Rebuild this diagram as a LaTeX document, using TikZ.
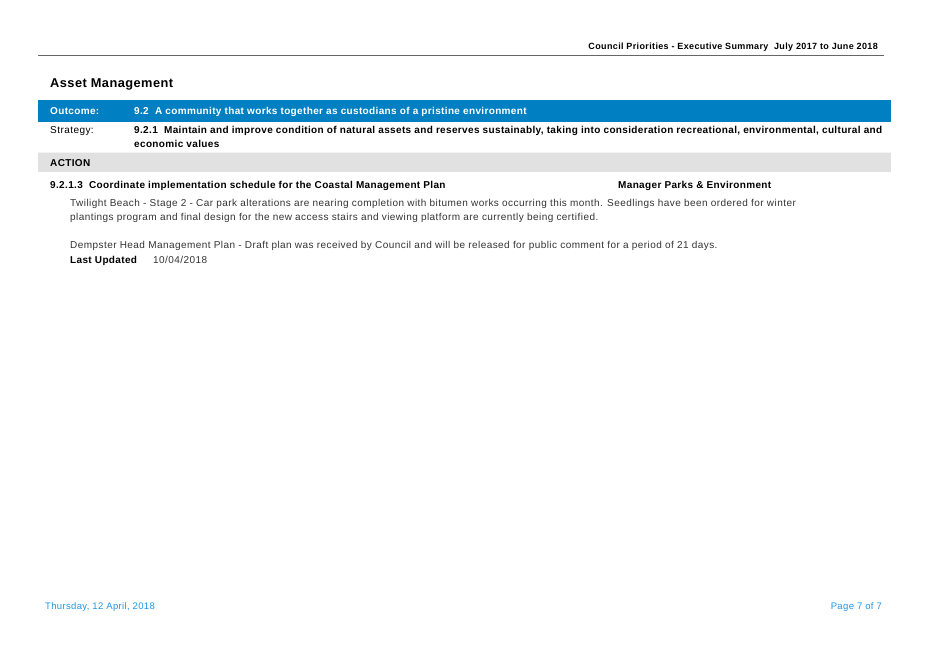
\documentclass[tikz,border=0pt]{standalone}
\usepackage{fontspec}
\setmainfont{Liberation Sans}
\newfontfamily\regf{Liberation Sans}[LetterSpace=4.4]
\newfontfamily\bldf{Liberation Sans}[LetterSpace=3.5]
\newfontfamily\hdrf{Liberation Sans}[LetterSpace=4.0]
\newfontfamily\footf{Liberation Sans}[LetterSpace=3.6]
\definecolor{barblue}{HTML}{0080C3}
\definecolor{footblue}{HTML}{1E96E6}
\definecolor{bandgray}{HTML}{E1E1E1}
\definecolor{bodygray}{HTML}{333333}
\definecolor{rulegray}{HTML}{666666}
\tikzset{
  txt/.style={inner sep=0pt, anchor=base west, font=\fontsize{10}{12}\selectfont\regf},
  bold/.style={txt, font=\fontsize{10}{12}\selectfont\bldf\bfseries},
  body/.style={txt, text=bodygray},
  rtxt/.style={inner sep=0pt, anchor=base east},
}
\begin{document}
\begin{tikzpicture}[x=1pt,y=-1pt]
\useasboundingbox (0,0) rectangle (928,657);
% header
\node[rtxt, font=\fontsize{9}{10}\selectfont\hdrf\bfseries] (hdr) at (878,49) {Council Priorities - Executive Summary\ \ July 2017 to June 2018};
\draw[rulegray, line width=1.3pt] (38,55.5) coordinate (rl) -- (884,55.5) coordinate (rr);
\node[txt, font=\fontsize{12.8}{14}\selectfont\bldf\bfseries] (title) at (50,87.5) {Asset Management};
% outcome bar
\fill[barblue] (38,100) rectangle (891,122);
\node[bold, text=white] (outl) at (50,114) {Outcome:};
\node[bold, text=white] (outt) at (134,114) {9.2\ \ A community that works together as custodians of a pristine environment};
% strategy
\node[txt] (strl) at (50,133.5) {Strategy:};
\node[bold] (strt1) at (134,133.5) {9.2.1\ \ Maintain and improve condition of natural assets and reserves sustainably, taking into consideration recreational, environmental, cultural and};
\node[bold] (strt2) at (134,147.5) {economic values};
% action band
\fill[bandgray] (38,152) rectangle (891,172);
\draw[white!60!bandgray, line width=1pt] (38,152.5) -- (891,152.5);
\node[bold] (act) at (50,166) {ACTION};
% action item
\node[bold] (ai) at (50,188.5) {9.2.1.3\ \ Coordinate implementation schedule for the Coastal Management Plan};
\node[bold] (mgr) at (618,188.5) {Manager Parks \& Environment};
\node[body] (b1) at (70,206) {Twilight Beach - Stage 2 - Car park alterations are nearing completion with bitumen works occurring this month. Seedlings have been ordered for winter};
\node[body] (b2) at (70,220) {plantings program and final design for the new access stairs and viewing platform are currently being certified.};
\node[body] (b3) at (70,248) {Dempster Head Management Plan - Draft plan was received by Council and will be released for public comment for a period of 21 days.};
\node[bold] (lu) at (70,263) {Last Updated};
\node[body] (lud) at (153,263) {10/04/2018};
% footer
\node[txt, text=footblue, font=\fontsize{9.5}{10}\selectfont\footf] (fl) at (45,609) {Thursday, 12 April, 2018};
\node[rtxt, text=footblue, font=\fontsize{9.5}{10}\selectfont\footf] (fr) at (882,609) {Page 7 of 7};
\end{tikzpicture}
\end{document}
